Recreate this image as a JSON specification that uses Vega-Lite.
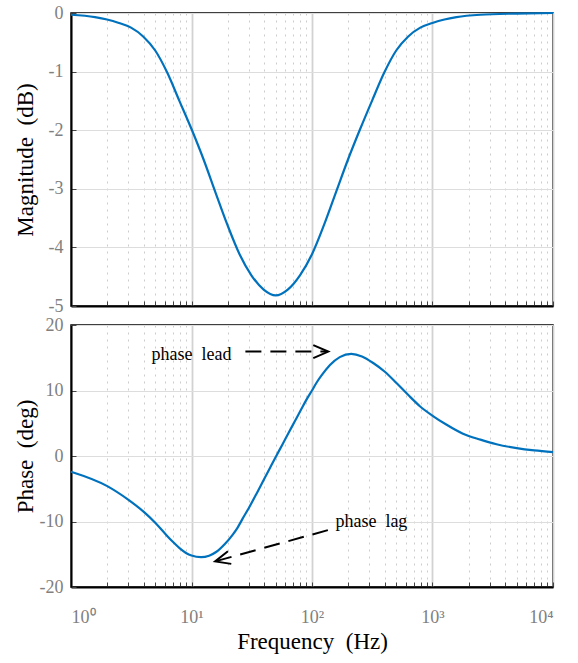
{
  "$schema": "https://vega.github.io/schema/vega-lite/v6.json",
  "padding": {"left": 13, "top": 3, "right": 5, "bottom": 5},
  "background": "white",
  "bounds": "flush",
  "spacing": 19,
  "datasets": {
    "mag": [
      {"f": 1, "m": -0.03}, {"f": 1.58, "m": -0.07}, {"f": 1.99, "m": -0.11}, {"f": 2.5, "m": -0.17},
      {"f": 3.15, "m": -0.25}, {"f": 3.97, "m": -0.4}, {"f": 5, "m": -0.64}, {"f": 6.3, "m": -1.02},
      {"f": 7.9, "m": -1.49}, {"f": 10, "m": -1.98}, {"f": 12.6, "m": -2.5}, {"f": 15.8, "m": -3.06},
      {"f": 19.9, "m": -3.62}, {"f": 25.1, "m": -4.12}, {"f": 31.5, "m": -4.48}, {"f": 39.7, "m": -4.72},
      {"f": 50, "m": -4.82}, {"f": 62.9, "m": -4.72}, {"f": 79.2, "m": -4.48}, {"f": 99.8, "m": -4.12},
      {"f": 125.6, "m": -3.62}, {"f": 158, "m": -3.06}, {"f": 199, "m": -2.5}, {"f": 251, "m": -1.98},
      {"f": 316, "m": -1.49}, {"f": 397, "m": -1.02}, {"f": 500, "m": -0.64}, {"f": 629, "m": -0.4},
      {"f": 792, "m": -0.25}, {"f": 998, "m": -0.17}, {"f": 1256, "m": -0.11}, {"f": 1581, "m": -0.07},
      {"f": 2500, "m": -0.03}, {"f": 5000, "m": -0.01}, {"f": 10000, "m": 0}
    ],
    "phase": [
      {"f": 1, "p": -2.4}, {"f": 2, "p": -4.6}, {"f": 3, "p": -6.7}, {"f": 4, "p": -8.5},
      {"f": 5, "p": -10.2}, {"f": 6, "p": -11.8}, {"f": 7, "p": -13.1}, {"f": 8, "p": -14.1},
      {"f": 9, "p": -14.8}, {"f": 10, "p": -15.2}, {"f": 12, "p": -15.45}, {"f": 14, "p": -15.22},
      {"f": 16, "p": -14.66}, {"f": 19, "p": -13.4}, {"f": 22, "p": -12.0}, {"f": 24, "p": -11.0},
      {"f": 26.5, "p": -9.6}, {"f": 30, "p": -7.9}, {"f": 35, "p": -5.6}, {"f": 40, "p": -3.55},
      {"f": 45, "p": -1.75}, {"f": 50.5, "p": 0}, {"f": 57, "p": 1.8}, {"f": 64, "p": 3.55},
      {"f": 72, "p": 5.3}, {"f": 81, "p": 7.05}, {"f": 90, "p": 8.6}, {"f": 100, "p": 10.0},
      {"f": 110, "p": 11.3}, {"f": 120, "p": 12.3}, {"f": 141, "p": 13.9}, {"f": 170, "p": 15.1},
      {"f": 212, "p": 15.6}, {"f": 260, "p": 15.2}, {"f": 322, "p": 14.2}, {"f": 400, "p": 12.9},
      {"f": 505, "p": 11.1}, {"f": 630, "p": 9.3}, {"f": 786, "p": 7.6}, {"f": 1010, "p": 6.1},
      {"f": 1300, "p": 4.8}, {"f": 1790, "p": 3.4}, {"f": 2500, "p": 2.5}, {"f": 3400, "p": 1.8},
      {"f": 5000, "p": 1.2}, {"f": 7000, "p": 0.85}, {"f": 10000, "p": 0.6}
    ]
  },
  "vconcat": [
    {
      "width": 482,
      "height": 293,
      "data": {"name": "mag"},
      "mark": {"type": "line", "color": "#0072BD", "strokeWidth": 2.2, "interpolate": "monotone"},
      "encoding": {
        "x": {
          "field": "f", "type": "quantitative",
          "scale": {"type": "log", "domain": [1, 10000], "nice": false},
          "axis": {
            "values": [1,2,3,4,5,6,7,8,9,10,20,30,40,50,60,70,80,90,100,200,300,400,500,600,700,800,900,1000,2000,3000,4000,5000,6000,7000,8000,9000,10000],
            "labels": false, "title": null,
            "gridDash": {"condition": {"test": "indexof([1,10,100,1000,10000], datum.value) >= 0", "value": []}, "value": [2, 5]},
            "gridWidth": {"condition": {"test": "indexof([1,10,100,1000,10000], datum.value) >= 0", "value": 1.8}, "value": 1},
            "gridColor": {"condition": {"test": "indexof([1,10,100,1000,10000], datum.value) >= 0", "value": "#d2d2d2"}, "value": "#cccccc"}
          }
        },
        "y": {
          "field": "m", "type": "quantitative",
          "scale": {"domain": [-5, 0], "nice": false, "zero": false},
          "axis": {
            "values": [-5, -4, -3, -2, -1, 0],
            "labelExpr": "datum.value < 0 ? '-' + abs(datum.value) : '' + datum.value",
            "labelPadding": 13,
            "title": "Magnitude\u00a0 (dB)", "titlePadding": 11
          }
        }
      }
    },
    {
      "width": 482,
      "height": 262,
      "encoding": {
        "x": {
          "field": "f", "type": "quantitative",
          "scale": {"type": "log", "domain": [1, 10000], "nice": false},
          "axis": {
            "values": [1,2,3,4,5,6,7,8,9,10,20,30,40,50,60,70,80,90,100,200,300,400,500,600,700,800,900,1000,2000,3000,4000,5000,6000,7000,8000,9000,10000],
            "labelExpr": "datum.value == 1 ? '10⁰' : datum.value == 10 ? '10¹' : datum.value == 100 ? '10²' : datum.value == 1000 ? '10³' : datum.value == 10000 ? '10⁴' : ''",
            "labelOverlap": false,
            "labelPadding": 26,
            "title": "Frequency\u00a0 (Hz)",
            "titlePadding": 4,
            "gridDash": {"condition": {"test": "indexof([1,10,100,1000,10000], datum.value) >= 0", "value": []}, "value": [2, 5]},
            "gridWidth": {"condition": {"test": "indexof([1,10,100,1000,10000], datum.value) >= 0", "value": 1.8}, "value": 1},
            "gridColor": {"condition": {"test": "indexof([1,10,100,1000,10000], datum.value) >= 0", "value": "#d2d2d2"}, "value": "#cccccc"}
          }
        },
        "y": {
          "field": "p", "type": "quantitative",
          "scale": {"domain": [-20, 20], "nice": false, "zero": false},
          "axis": {
            "values": [-20, -10, 0, 10, 20],
            "labelExpr": "datum.value < 0 ? '-' + abs(datum.value) : '' + datum.value",
            "labelPadding": 13,
            "title": "Phase\u00a0 (deg)", "titlePadding": 2
          }
        }
      },
      "layer": [
        {
          "data": {"name": "phase"},
          "mark": {"type": "line", "color": "#0072BD", "strokeWidth": 2.2, "interpolate": "monotone"}
        },
        {
          "data": {"values": [{"f": 28, "p": 15.94}, {"f": 134, "p": 15.94}]},
          "mark": {"type": "line", "color": "#000", "strokeWidth": 2, "strokeDash": [16, 9]}
        },
        {
          "data": {"values": [{"f": 143, "p": -11.2}, {"f": 16.0, "p": -16.05}]},
          "mark": {"type": "line", "color": "#000", "strokeWidth": 2, "strokeDash": [16, 9]}
        },
        {
          "data": {"values": [{"f": 136.5, "p": 15.94}]},
          "mark": {"type": "point", "shape": "M-2,-0.87L0,0L-2,0.87", "filled": false, "stroke": "#000", "strokeWidth": 2, "size": 225, "opacity": 1}
        },
        {
          "data": {"values": [{"f": 15.7, "p": -16.1}]},
          "mark": {"type": "point", "shape": "M2,-0.87L0,0L2,0.87", "angle": -15, "filled": false, "stroke": "#000", "strokeWidth": 2, "size": 225, "opacity": 1}
        },
        {
          "data": {"values": [{"f": 10, "p": 14.66, "label": "phase\u00a0 lead"}, {"f": 311, "p": -10.85, "label": "phase\u00a0 lag"}]},
          "mark": {"type": "text", "font": "Liberation Serif", "fontSize": 18, "color": "#000", "align": "center", "baseline": "alphabetic"},
          "encoding": {"text": {"field": "label"}}
        }
      ]
    }
  ],
  "config": {
    "view": {"stroke": "#000", "strokeWidth": 1.5},
    "axis": {
      "labelFont": "Liberation Serif", "labelFontSize": 18, "labelColor": "#808080",
      "titleFont": "Liberation Serif", "titleFontSize": 23, "titleFontWeight": "normal", "titleColor": "#000",
      "domainColor": "#000", "domainWidth": 2,
      "tickColor": "#444", "tickSize": -5, "labelPadding": 4,
      "grid": true
    }
  }
}
